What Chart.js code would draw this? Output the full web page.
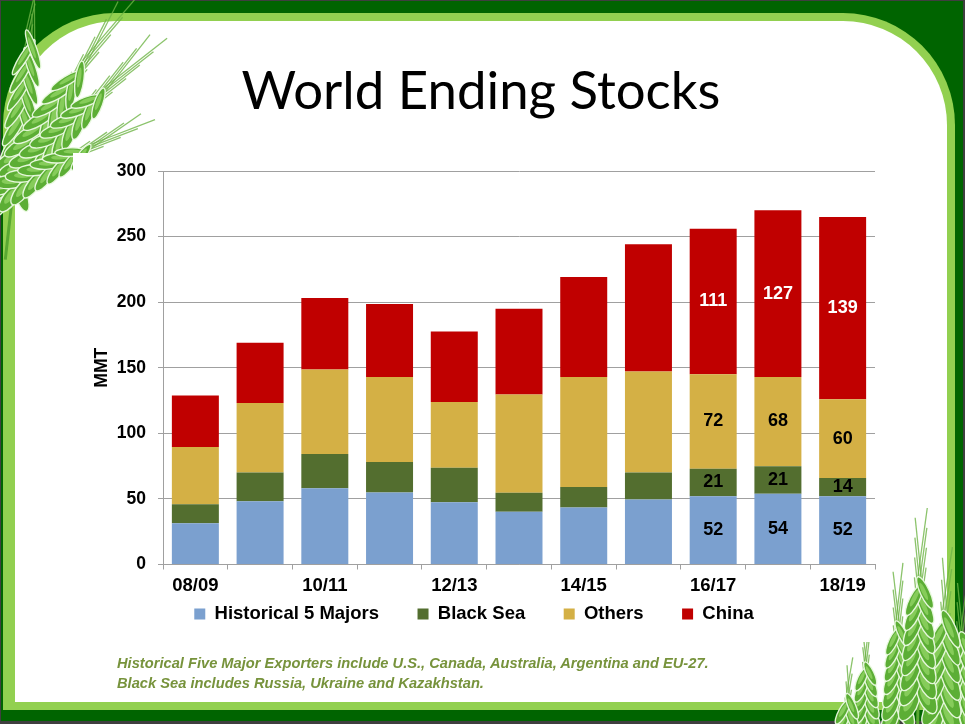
<!DOCTYPE html>
<html>
<head>
<meta charset="utf-8">
<script src="https://cdn.jsdelivr.net/npm/chart.js@4.4.1/dist/chart.umd.min.js"></script>
<style>
  html, body { margin: 0; padding: 0; }
  body { width: 965px; height: 724px; position: relative; overflow: hidden; background: #3f3f3f; }
  #darkgreen { position: absolute; left: 1px; top: 1px; width: 962px; height: 720px; background: #006400; }
  #lightframe { position: absolute; left: 3px; top: 13px; width: 952px; height: 697px; background: #92d050;
                border-radius: 112px 112px 0 0; }
  #white { position: absolute; left: 15px; top: 21px; width: 932px; height: 681px; background: #ffffff;
           border-radius: 102px 104px 0 0; }
  #deco { position: absolute; left: 0; top: 0; }
  #chartBox { position: absolute; left: 73px; top: 153px; width: 815px; height: 489px; background: #ffffff; }
  #title { position: absolute; top: 0; left: 0; white-space: nowrap; font-family: Lato, "Open Sans", sans-serif;
           font-size: 56px; line-height: 1; color: #000; }
  #note { position: absolute; left: 117px; top: 654px; font-family: "Liberation Sans", Arial, sans-serif;
          font-weight: bold; font-style: italic; color: #77933c; font-size: 14px; line-height: 19.5px; white-space: nowrap; }
</style>
</head>
<body>
<div id="darkgreen"></div>
<div id="lightframe"></div>
<div id="white"></div>
<canvas id="deco" width="965" height="724"></canvas>
<div id="chartBox"><canvas id="chart" width="815" height="489"></canvas></div>
<div id="title">World Ending Stocks</div>
<div id="note"><span id="note1">Historical Five Major Exporters include U.S., Canada, Australia, Argentina and EU-27.</span><br><span>Black Sea includes Russia, Ukraine and Kazakhstan.</span></div>
<script>
// ---------------- data ----------------
const categories = ['08/09','09/10','10/11','11/12','12/13','13/14','14/15','15/16','16/17','17/18','18/19'];
const historical5 = [31.5, 48.3, 58.2, 54.9, 47.5, 40.2, 43.5, 49.6, 52, 54, 52];
const blackSea    = [14.5, 21.9, 26.0, 23.2, 26.2, 14.5, 15.5, 20.6, 21, 21, 14];
const others      = [43.5, 52.9, 64.5, 64.8, 50.1, 75.0, 83.9, 77.0, 72, 68, 60];
const china       = [39.4, 46.0, 54.4, 55.7, 53.9, 65.3, 76.3, 96.9, 111, 127, 139];
const seriesNames = ['Historical 5 Majors', 'Black Sea', 'Others', 'China'];
const yTicks = [0, 50, 100, 150, 200, 250, 300];
const labeledIndices = [8, 9, 10];

// ---------------- title & note sizing ----------------
(function () {
  const t = document.getElementById('title');
  let w = t.getBoundingClientRect().width;
  let fs = 56 * 479 / w;
  t.style.fontSize = fs + 'px';
  w = t.getBoundingClientRect().width;
  t.style.left = (481 - w / 2) + 'px';
  t.style.top = (110 - fs * 0.887) + 'px';
  const n1 = document.getElementById('note1');
  const nw = n1.getBoundingClientRect().width;
  const nfs = 14 * 592 / nw;
  document.getElementById('note').style.fontSize = nfs + 'px';
})();

// ---------------- decorative wheat ----------------
(function () {
  const c = document.getElementById('deco').getContext('2d');
  function head(x0, y0, x1, y1, w, awn, n) {
    const dx = x1 - x0, dy = y1 - y0, L = Math.hypot(dx, dy);
    const ux = dx / L, uy = dy / L, px = -uy, py = ux;
    const ang = Math.atan2(uy, ux);
    c.strokeStyle = '#5aa832'; c.lineWidth = 3;
    c.beginPath(); c.moveTo(x0 - ux * 60, y0 - uy * 60); c.lineTo(x1, y1); c.stroke();
    for (let i = 0; i < n; i++) {
      for (const side of [-1, 1]) {
        const t = (i + (side > 0 ? 0.5 : 0)) / n;
        const s = 1 - 0.45 * t;
        const a = ang - side * 0.45;
        const rl = (L / n) * 1.15;
        const cx = x0 + ux * L * t + px * side * w * 0.3 * s;
        const cy = y0 + uy * L * t + py * side * w * 0.3 * s;
        const ex = cx + Math.cos(a) * rl, ey = cy + Math.sin(a) * rl;
        const al = awn * (0.5 + 0.6 * t);
        c.strokeStyle = 'rgba(110,180,70,0.8)'; c.lineWidth = 1.3;
        c.beginPath(); c.moveTo(ex, ey);
        c.lineTo(ex + ux * al + px * side * al * 0.12, ey + uy * al + py * side * al * 0.12);
        c.stroke();
      }
    }
    for (let i = 0; i < n; i++) {
      for (const side of [-1, 1]) {
        const t = (i + (side > 0 ? 0.5 : 0)) / n;
        const s = 1 - 0.45 * t;
        const cx = x0 + ux * L * t + px * side * w * 0.3 * s;
        const cy = y0 + uy * L * t + py * side * w * 0.3 * s;
        const a = ang - side * 0.45;
        const rl = (L / n) * 1.15, rs = w * 0.27 * s;
        c.save();
        c.translate(cx, cy); c.rotate(a);
        c.beginPath(); c.ellipse(0, 0, rl, rs, 0, 0, Math.PI * 2);
        c.fillStyle = '#5cae35'; c.fill();
        c.strokeStyle = 'rgba(235,250,225,0.95)'; c.lineWidth = 1.4; c.stroke();
        c.beginPath(); c.ellipse(rl * 0.1, -rs * 0.15, rl * 0.55, rs * 0.45, 0, 0, Math.PI * 2);
        c.fillStyle = '#86cc5a'; c.fill();
        c.restore();
      }
    }
  }
  // top-left cluster
  head(12, 200, 30, 40, 24, 45, 9);
  head(0, 190, 80, 70, 28, 75, 9);
  head(10, 185, 100, 95, 28, 75, 9);
  head(0, 195, 85, 150, 26, 65, 7);
  // bottom-right cluster
  head(960, 760, 962, 640, 34, 55, 8);
  head(866, 735, 866, 668, 24, 35, 6);
  head(845, 760, 848, 700, 24, 35, 5);
  head(898, 720, 898, 628, 26, 55, 7);
  head(940, 760, 945, 620, 34, 60, 8);
  head(918, 705, 920, 585, 30, 65, 8);
})();

// ---------------- chart ----------------
const FONT = '"Liberation Sans", Arial, sans-serif';
const colors = ['#7ba0cf', '#536e2f', '#d4b045', '#c00000'];
const labelColors = ['#000000', '#000000', '#000000', '#ffffff'];
const seriesData = [historical5, blackSea, others, china];
const LEGEND_PAD = 38.5, LEGEND_FONT = 18.5;

const segmentLabels = {
  id: 'segmentLabels',
  afterDatasetsDraw(chart) {
    const ctx = chart.ctx;
    ctx.save();
    ctx.font = 'bold 18px ' + FONT;
    ctx.textAlign = 'center';
    ctx.textBaseline = 'middle';
    chart.data.datasets.forEach((ds, di) => {
      const meta = chart.getDatasetMeta(di);
      labeledIndices.forEach(idx => {
        const el = meta.data[idx];
        if (!el) return;
        ctx.fillStyle = labelColors[di];
        ctx.fillText(String(Math.round(ds.data[idx])), el.x, (el.y + el.base) / 2);
      });
    });
    ctx.restore();
  }
};

// place the legend row at the slide's legend line
const legendPlace = {
  id: 'legendPlace',
  afterLayout(chart) {
    const lg = chart.legend;
    if (!lg) return;
    const rowCenter = 461;
    lg.top = rowCenter - LEGEND_PAD - LEGEND_FONT / 2;
    lg.bottom = lg.top + 80;
    lg.left -= 7.5; lg.right -= 7.5;
  }
};

new Chart(document.getElementById('chart'), {
  type: 'bar',
  data: {
    labels: categories,
    datasets: seriesData.map((d, i) => ({
      label: seriesNames[i],
      data: d,
      backgroundColor: colors[i],
      borderWidth: 0,
      barPercentage: 0.726,
      categoryPercentage: 1.0
    }))
  },
  options: {
    responsive: false,
    animation: false,
    devicePixelRatio: 1,
    layout: { padding: { left: 15, right: 13, top: 18, bottom: 13.5 } },
    plugins: {
      tooltip: { enabled: false },
      legend: {
        position: 'bottom',
        maxHeight: 30,
        labels: {
          boxWidth: 11, boxHeight: 11, padding: LEGEND_PAD,
          color: '#000',
          font: { family: FONT, size: LEGEND_FONT, weight: 'bold' }
        }
      }
    },
    scales: {
      x: {
        stacked: true,
        grid: { display: true, drawOnChartArea: false, drawTicks: true, tickLength: 5, color: '#a0a0a0', offset: true },
        border: { display: true, color: '#a0a0a0' },
        ticks: {
          autoSkip: false, maxRotation: 0, padding: 5, color: '#000',
          font: { family: FONT, size: 18.5, weight: 'bold' },
          callback: (v, i) => (i % 2 === 0 ? categories[i] : '')
        },
        afterFit: (s) => { s.height = 34; }
      },
      y: {
        stacked: true, min: 0, max: 300,
        afterBuildTicks: (s) => { s.ticks = yTicks.map(v => ({ value: v })); },
        grid: { color: '#a0a0a0', tickLength: 5, drawTicks: true },
        border: { display: true, color: '#a0a0a0' },
        ticks: { padding: 12, color: '#000', font: { family: FONT, size: 17.5, weight: 'bold' } },
        title: { display: true, text: 'MMT', color: '#000', padding: { top: 4, bottom: 0 },
                 font: { family: FONT, size: 17.5, weight: 'bold' } },
        afterFit: (s) => { s.width = 75; s.paddingTop = 0; s.paddingBottom = 0; }
      }
    }
  },
  plugins: [segmentLabels, legendPlace]
});
</script>
</body>
</html>
